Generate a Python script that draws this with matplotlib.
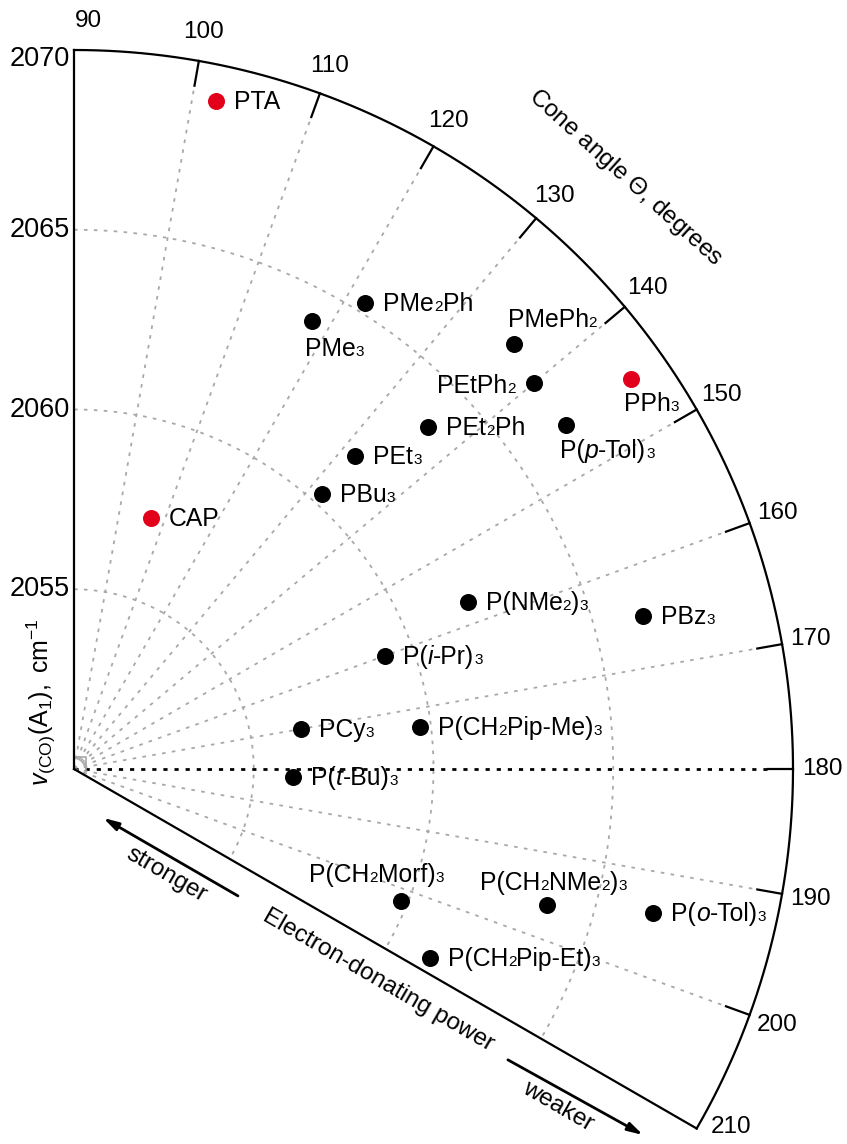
import re
import numpy as np
import matplotlib.pyplot as plt
from matplotlib.offsetbox import TextArea, HPacker, AnnotationBbox

plt.rcParams['font.family'] = ['Liberation Sans', 'DejaVu Sans']
plt.rcParams['mathtext.fontset'] = 'custom'
plt.rcParams['mathtext.rm'] = 'Liberation Sans'
plt.rcParams['mathtext.it'] = 'Liberation Sans:italic'

# Tolman map data: cone angle (deg) and nu(CO) A1 (cm-1)
# markup in names: _3 -> small digit, *p* -> italic
ligands = ['PTA', 'CAP', 'PPh_3', 'PMe_3', 'PMe_2Ph', 'PMePh_2', 'PEtPh_2',
           'PEt_2Ph', 'P(*p*-Tol)_3', 'PEt_3', 'PBu_3', 'P(NMe_2)_3', 'PBz_3',
           'P(*i*-Pr)_3', 'PCy_3', 'P(CH_2Pip-Me)_3', 'P(*t*-Bu)_3',
           'P(CH_2Morf)_3', 'P(CH_2NMe_2)_3', 'P(CH_2Pip-Et)_3', 'P(*o*-Tol)_3']
cone = [102, 107, 145, 118, 122, 136, 140,
        136, 145, 132, 132, 157, 165,
        160, 170, 173, 182,
        202, 196, 208, 194]
nu = [2069.0, 2057.3, 2068.9, 2064.1, 2065.3, 2067.0, 2066.7,
      2063.7, 2066.7, 2061.7, 2060.3, 2061.9, 2066.4,
      2059.2, 2056.4, 2059.7, 2056.1,
      2059.8, 2063.7, 2061.2, 2066.6]
highlight = ['PTA', 'CAP', 'PPh_3']

cone_ticks = list(range(90, 211, 10))
nu_ticks = [2055, 2060, 2065, 2070]
NU0, NU_MAX = 2050, 2070

# label placement: (dx px, dy px, anchor)
label_pos = {
    'PMe_3': (-7, -28, 'l'), 'PMePh_2': (-6, 24, 'l'), 'PEtPh_2': (-18, -3, 'r'),
    'P(*p*-Tol)_3': (-6, -26, 'l'), 'PPh_3': (-7, -25, 'l'),
    'P(CH_2Morf)_3': (-24, 26, 'c'), 'P(CH_2NMe_2)_3': (6, 22, 'c'),
}

PX = 35.95  # pixels per cm-1
OX, OY = 74, 769
W, H = 847, 1144


def xy(theta, r):
    phi = np.radians(180 - np.asarray(theta, dtype=float))
    return r * np.cos(phi), r * np.sin(phi)


def rich_label(s, size=17.8, small=11):
    parts = [p for p in re.split(r'(_\d|\*[^*]+\*)', s) if p]
    kids = []
    for p in parts:
        if p.startswith('_'):
            kids.append(TextArea(p[1:], textprops=dict(fontsize=small)))
        elif p.startswith('*'):
            kids.append(TextArea(p[1:-1], textprops=dict(fontsize=size, style='italic')))
        else:
            kids.append(TextArea(p, textprops=dict(fontsize=size)))
    return HPacker(children=kids, align='baseline', pad=0, sep=0)


fig = plt.figure(figsize=(W / 100, H / 100), dpi=100)
ax = fig.add_axes([0, 0, 1, 1])
ax.set_xlim(-OX / PX, (W - OX) / PX)
ax.set_ylim((OY - H) / PX, OY / PX)
ax.axis('off')

R = NU_MAX - NU0
tick_len = 0.7
grid_kw = dict(color='#a8a8a8', lw=1.3, dashes=(2, 3.5))

# concentric grid arcs
t = np.linspace(90, 210, 400)
for v in nu_ticks[:-1]:
    ax.plot(*xy(t, v - NU0), **grid_kw)

# radial grid lines
for c in cone_ticks[1:-1]:
    x, y = xy([c, c], np.array([0, R - tick_len]))
    if c == 180:
        ax.plot(x, y, color='black', lw=2, dashes=(1.5, 2.5))
    else:
        ax.plot(x, y, **grid_kw)

# small right-angle mark at origin
ax.plot([0, 0.33, 0.33], [0.33, 0.33, 0], color='#a8a8a8', lw=1.2)

# frame: axis, outer arc, lower edge
ax.plot(*xy(t, R), color='black', lw=1.6)
ax.plot([0, 0], [0, R], color='black', lw=1.6)
ax.plot(*xy([210, 210], np.array([0, R])), color='black', lw=1.6)

# ticks and labels on arc
for c in cone_ticks:
    if 90 < c < 210:
        ax.plot(*xy([c, c], np.array([R - tick_len, R])), color='black', lw=1.6)
    tc = {90: 91.1, 210: 208.6}.get(c, c)
    lx, ly = xy(tc, 20.81)
    ax.text(lx, ly, str(c), fontsize=17.5, ha='center', va='center')

for v in nu_ticks:
    yy = v - NU0 - (9 / PX if v == NU_MAX else 0)
    ax.text(-0.12, yy, str(v), fontsize=19.5, ha='right', va='center')

# data points
for name, c, v in zip(ligands, cone, nu):
    x, y = xy(c, v - NU0)
    col = '#e3001b' if name in highlight else 'black'
    ax.scatter(x, y, s=150, color=col, zorder=5, linewidths=0)
    dx, dy, anc = label_pos.get(name, (18, -1, 'l'))
    ha = {'l': 0, 'r': 1, 'c': 0.5}[anc]
    ab = AnnotationBbox(rich_label(name), (x, y), xybox=(dx * 0.72, dy * 0.72),
                        xycoords='data', boxcoords='offset points',
                        box_alignment=(ha, 0.5), frameon=False, pad=0)
    ax.add_artist(ab)

# axis titles
ax.text(-0.9, 1.86, r'$\mathit{v}_{\mathregular{(CO)}}\mathregular{(A_1),\ cm^{-1}}$',
        fontsize=18, rotation=90, ha='center', va='center')
cx, cy = xy(133, 22.5)
ax.text(cx, cy, r'Cone angle $\mathit{\Theta}$, degrees', fontsize=17.5,
        rotation=-42, ha='center', va='center', rotation_mode='anchor')

ax.text(8.46, -5.87, 'Electron-donating power', fontsize=17.5, rotation=-30,
        ha='center', va='center', rotation_mode='anchor')
ax.text(2.56, -2.95, 'stronger', fontsize=17.5, rotation=-30,
        ha='center', va='center', rotation_mode='anchor')
ax.text(13.46, -9.37, 'weaker', fontsize=17.5, rotation=-30,
        ha='center', va='center', rotation_mode='anchor')

arrow_kw = dict(arrowstyle='-|>,head_length=0.9,head_width=0.25', lw=2,
                color='black', shrinkA=0, shrinkB=0)
ax.annotate('', xy=(0.81, -1.36), xytext=(4.56, -3.53), arrowprops=arrow_kw)
ax.annotate('', xy=(15.83, -10.18), xytext=(12.07, -8.09), arrowprops=arrow_kw)

fig.savefig('out.png', dpi=100)
